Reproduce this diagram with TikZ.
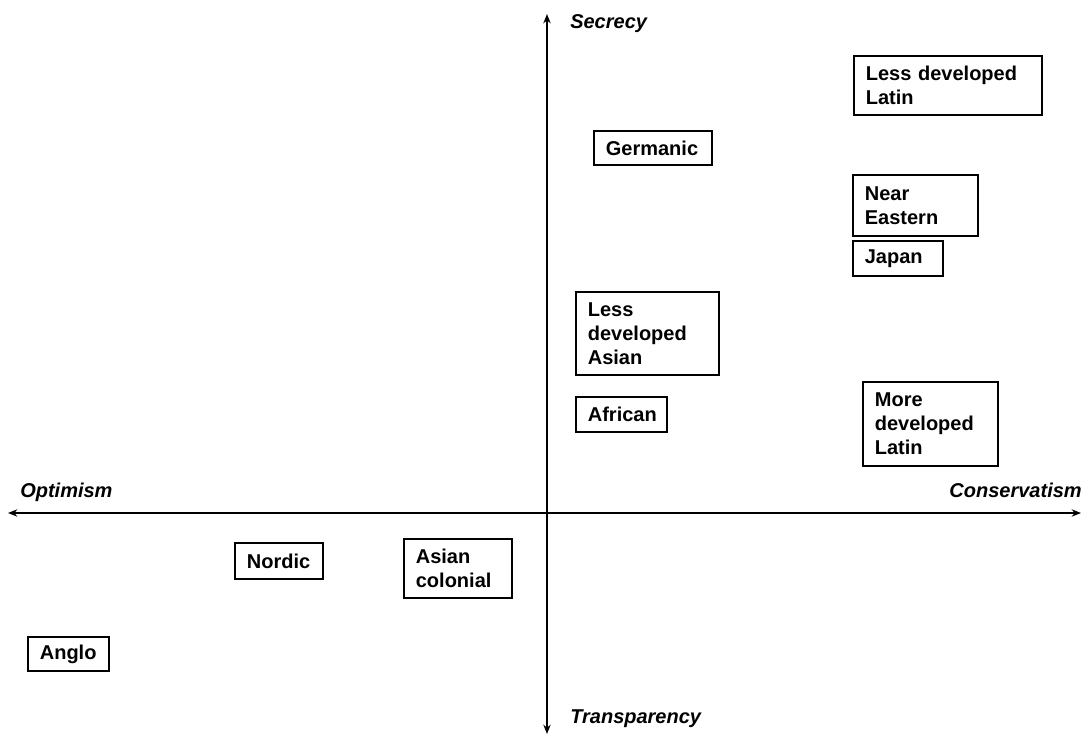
\documentclass[tikz,border=0pt]{standalone}
\usepackage{fontspec}
\setmainfont{Liberation Sans}
\usetikzlibrary{arrows.meta}
\begin{document}
\begin{tikzpicture}[x=0.75pt,y=-0.75pt,
  box/.style={draw, line width=1.3pt, anchor=north west, align=left,
    inner xsep=9pt, inner ysep=0pt,
    font=\fontsize{15pt}{18pt}\selectfont\bfseries},
  axis/.style={line width=1.2pt, {Stealth[length=7pt,width=5.5pt]}-{Stealth[length=7pt,width=5.5pt]}},
  axlabel/.style={inner sep=0pt, font=\fontsize{15pt}{18pt}\selectfont\bfseries\itshape}]
\useasboundingbox (0,0) rectangle (1082,736);
% axes
\coordinate (top) at (547,14);
\coordinate (bottom) at (547,734);
\coordinate (left) at (8,513);
\coordinate (right) at (1081,513);
\draw[axis] (left) -- (right);
\draw[axis] (bottom) -- (top);
\node[axlabel, anchor=west] (secrecy) at (570,24) {Secrecy};
\node[axlabel, anchor=west] (transp) at (570,719) {Transparency};
\node[axlabel, anchor=west] (optim) at (20,492) {Optimism};
\node[axlabel, anchor=east] (conserv) at (1082,490) {Conservatism};
% boxes
\node[box, text width=123pt, minimum height=44.25pt] (ldl) at (853,55) {Less developed\\Latin};
\node[box, text width=70.5pt, minimum height=25.5pt] (germanic) at (593,130) {Germanic};
\node[box, text width=75.75pt, minimum height=45.75pt] (neareast) at (852,174) {Near\\Eastern};
\node[box, text width=49.5pt, minimum height=26.25pt] (japan) at (852,240) {Japan};
\node[box, text width=89.25pt, minimum height=62.25pt] (lda) at (575,291) {Less\\developed\\Asian};
\node[box, text width=50.25pt, minimum height=26.25pt] (african) at (575,396) {African};
\node[box, text width=83.25pt, minimum height=63pt] (mdl) at (862,381) {More\\developed\\Latin};
\node[box, text width=48pt, minimum height=27pt] (nordic) at (234,542) {Nordic};
\node[box, text width=63pt, minimum height=44.25pt] (asiancol) at (403,538) {Asian\\colonial};
\node[box, text width=42.75pt, minimum height=25.5pt] (anglo) at (27,636) {Anglo};
\end{tikzpicture}
\end{document}
